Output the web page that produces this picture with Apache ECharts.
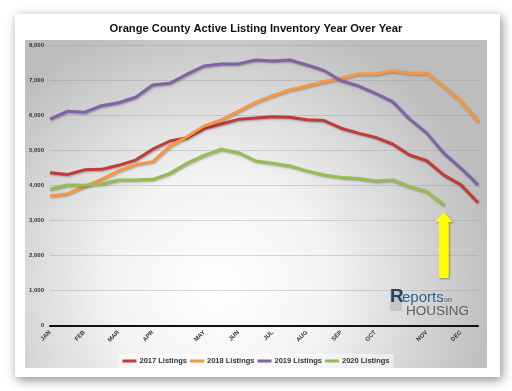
<!DOCTYPE html>
<html>
<head>
<meta charset="utf-8">
<script src="https://cdn.jsdelivr.net/npm/echarts@6/dist/echarts.min.js"></script>
<style>html,body{margin:0;padding:0;background:#fff;}#c{width:512px;height:391px;}</style>
</head>
<body>
<div id="c"></div>
<script>
var categories = ['JAN','','FEB','','MAR','','APR','','','MAY','','JUN','','JUL','','AUG','','SEP','','OCT','','','NOV','','DEC',''];
var s2017 = [4370,4315,4450,4465,4580,4730,5040,5275,5370,5630,5760,5895,5935,5970,5955,5880,5860,5640,5500,5380,5190,4875,4710,4300,4020,3510];
var s2018 = [3700,3760,3970,4180,4420,4600,4685,5130,5400,5705,5880,6125,6380,6570,6735,6850,6970,7070,7190,7190,7280,7210,7210,6830,6400,5830];
var s2019 = [5900,6125,6095,6285,6370,6525,6875,6925,7185,7420,7480,7480,7590,7560,7590,7450,7290,7000,6850,6640,6400,5900,5500,4925,4495,4020];
var s2020 = [3895,4015,4010,4045,4160,4160,4180,4350,4640,4865,5040,4940,4705,4640,4560,4420,4305,4235,4200,4130,4160,3970,3825,3445];
var seriesNames = ['2017 Listings','2018 Listings','2019 Listings','2020 Listings'];
var colors = ['#c23b3a','#f7963f','#8062a6','#96bd4f'];
var yTicks = {min:0, max:8000, interval:1000};
var arrowIndex = 23, arrowValue = 2300;

var chart = echarts.init(document.getElementById('c'));
function mk(name, data, color, extra){
  var s = {
    name: name, type: 'line', data: data, showSymbol: false, symbol: 'none',
    lineStyle: {width: 3, color: color, shadowColor: 'rgba(0,0,0,0.3)', shadowBlur: 2, shadowOffsetX: 1, shadowOffsetY: 1},
    itemStyle: {color: color}, z: 3
  };
  if (extra) Object.assign(s, extra);
  return s;
}
var arrowPath = 'path://M9,0 L18,10 L14,10 L14,66 L4,66 L4,10 L0,10 Z';
chart.setOption({
  animation: false,
  color: colors,
  title: {
    text: 'Orange County Active Listing Inventory Year Over Year',
    left: 'center', top: 18,
    textStyle: {fontFamily: 'Liberation Sans, Arial', fontWeight: 'bold', fontSize: 11.2, color: '#111'}
  },
  graphic: [
    {type: 'rect', z: -10, shape: {x: 15, y: 14, width: 485, height: 363},
      style: {fill: '#fff', shadowBlur: 10, shadowColor: 'rgba(0,0,0,0.45)', shadowOffsetX: 2, shadowOffsetY: 3}},
    {type: 'rect', z: -9, shape: {x: 25, y: 40, width: 462, height: 328},
      style: {fill: {type: 'radial', x: 0.42, y: 0.75, r: 0.85, colorStops: [
        {offset: 0, color: '#ffffff'}, {offset: 0.4, color: '#f3f3f3'}, {offset: 1, color: '#bdbdbd'}]}}},
    {type: 'rect', z: -8, shape: {x: 390, y: 289, width: 12, height: 22}, style: {fill: 'rgba(120,130,140,0.25)'}},
    {type: 'text', z: 5, left: 390, top: 287, style: {text: 'R', fontFamily: 'Liberation Sans, Arial', fontSize: 19, fontWeight: 'bold', fill: '#22465e'}},
    {type: 'text', z: 5, left: 402, top: 290, style: {text: 'eports', fontFamily: 'Liberation Sans, Arial', fontSize: 15, fill: '#2b6585'}},
    {type: 'text', z: 5, left: 444, top: 297, style: {text: 'on', fontFamily: 'Liberation Sans, Arial', fontSize: 7, fill: '#2b6585'}},
    {type: 'text', z: 5, left: 406, top: 304, style: {text: 'HOUSING', fontFamily: 'Liberation Sans, Arial', fontSize: 13.5, fill: '#5a5f63'}}
  ],
  grid: {left: 50, right: 34, top: 45.7, bottom: 65.5, containLabel: false},
  xAxis: {
    type: 'category', data: categories, boundaryGap: false,
    axisTick: {show: false},
    axisLine: {lineStyle: {color: '#111', width: 2}},
    axisLabel: {interval: 0, rotate: 45, fontSize: 6, fontWeight: 'bold', color: '#333', margin: 6, fontFamily: 'Liberation Sans, Arial'},
    splitLine: {show: false}
  },
  yAxis: {
    type: 'value', min: yTicks.min, max: yTicks.max, interval: yTicks.interval,
    axisLine: {show: false}, axisTick: {show: false},
    axisLabel: {fontSize: 6, fontWeight: 'bold', color: '#333', margin: 6, fontFamily: 'Liberation Sans, Arial',
      formatter: function(v){ return v.toLocaleString('en-US'); }},
    splitLine: {lineStyle: {color: 'rgba(150,150,150,0.35)', width: 1}}
  },
  legend: {
    data: seriesNames, bottom: 23, left: 'center',
    icon: 'rect', itemWidth: 14, itemHeight: 3, itemGap: 3,
    padding: [3, 4], backgroundColor: 'rgba(255,255,255,0.45)',
    textStyle: {fontSize: 7.5, fontWeight: 'bold', color: '#333', fontFamily: 'Liberation Sans, Arial', padding: [0,0,0,-2]}
  },
  series: [
    mk(seriesNames[0], s2017, colors[0]),
    mk(seriesNames[1], s2018, colors[1]),
    mk(seriesNames[2], s2019, colors[2]),
    mk(seriesNames[3], s2020, colors[3], {
      markPoint: {
        silent: true, symbol: arrowPath, symbolSize: [18, 66], symbolKeepAspect: false,
        label: {show: false},
        itemStyle: {color: '#ffff00', shadowColor: 'rgba(0,0,0,0.35)', shadowBlur: 2, shadowOffsetX: 1, shadowOffsetY: 1},
        data: [{coord: [arrowIndex, arrowValue]}]
      }
    })
  ]
});
</script>
</body>
</html>
